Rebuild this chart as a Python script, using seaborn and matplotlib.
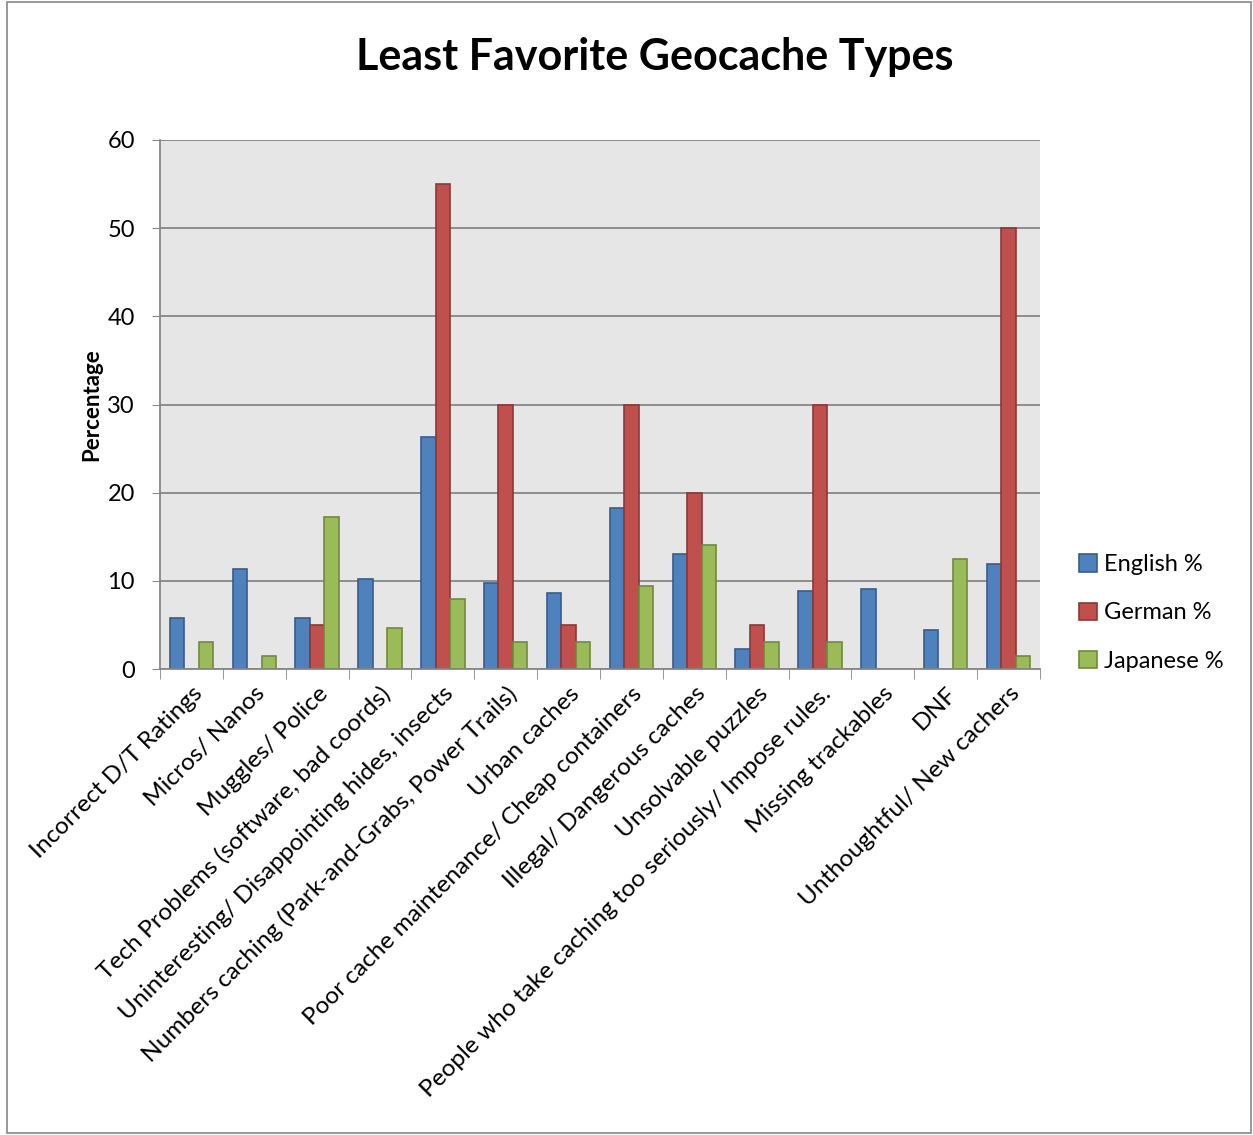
import matplotlib
matplotlib.use("Agg")
import matplotlib.pyplot as plt
import seaborn as sns
import pandas as pd
import numpy as np
from matplotlib.patches import Rectangle

categories = [
    "Incorrect D/T Ratings",
    "Micros/ Nanos",
    "Muggles/ Police",
    "Tech Problems (software, bad coords)",
    "Uninteresting/ Disappointing hides, insects",
    "Numbers caching (Park-and-Grabs, Power Trails)",
    "Urban caches",
    "Poor cache maintenance/ Cheap containers",
    "Illegal/ Dangerous caches",
    "Unsolvable puzzles",
    "People who take caching too seriously/ Impose rules.",
    "Missing trackables",
    "DNF",
    "Unthoughtful/ New cachers",
]
english = [5.8, 11.3, 5.8, 10.2, 26.3, 9.8, 8.6, 18.3, 13.0, 2.3, 8.8, 9.1, 4.4, 11.9]
german = [0, 0, 5, 0, 55, 30, 5, 30, 20, 5, 30, 0, 0, 50]
japanese = [3.1, 1.5, 17.2, 4.7, 7.9, 3.1, 3.1, 9.4, 14.1, 3.1, 3.1, 0, 12.5, 1.5]
series_names = ["English %", "German %", "Japanese %"]
y_ticks = [0, 10, 20, 30, 40, 50, 60]

face_colors = ["#4F81BD", "#C0504D", "#9BBB59"]
edge_colors = ["#385D8A", "#8C3836", "#71893F"]

rows = []
for name, vals in zip(series_names, [english, german, japanese]):
    for c, v in zip(categories, vals):
        rows.append({"Category": c, "Series": name, "Value": v})
df = pd.DataFrame(rows)

sns.set_style("white")
plt.rcParams["font.family"] = ["Lato", "DejaVu Sans"]
plt.rcParams["text.color"] = "black"
plt.rcParams["axes.labelcolor"] = "black"
plt.rcParams["xtick.labelcolor"] = "black"
plt.rcParams["ytick.labelcolor"] = "black"

fig = plt.figure(figsize=(12.53, 11.35), dpi=100)
ax = fig.add_axes([160 / 1253, 1 - 669 / 1135, 880 / 1253, 529 / 1135])

sns.barplot(data=df, x="Category", y="Value", hue="Series", order=categories,
            hue_order=series_names, palette=face_colors, width=0.69, saturation=1,
            errorbar=None, ax=ax, legend=True)

for cont, ec in zip(ax.containers, edge_colors):
    for bar in cont:
        bar.set_edgecolor(ec)
        bar.set_linewidth(1.2)
        if bar.get_height() == 0:
            bar.set_visible(False)

ax.set_facecolor("#E6E6E6")
ax.set_ylim(0, 60)
ax.set_xlim(-0.5, len(categories) - 0.5)
ax.set_yticks(y_ticks)
ax.yaxis.grid(True, color="#868686", linewidth=1.3)
ax.set_axisbelow(True)
for s in ["top", "right"]:
    ax.spines[s].set_visible(False)
for s in ["left", "bottom"]:
    ax.spines[s].set_color("#868686")
    ax.spines[s].set_linewidth(1.3)

ax.tick_params(axis="y", which="major", length=6, color="#868686", labelsize=17, pad=12, left=True, direction="out")
ax.set_xticks(np.arange(len(categories)))
ax.set_xticklabels(categories, rotation=45, ha="right", rotation_mode="anchor", fontsize=17.6)
ax.tick_params(axis="x", which="major", length=0, pad=10)
ax.set_xticks(np.arange(len(categories) + 1) - 0.5, minor=True)
ax.tick_params(axis="x", which="minor", length=7, color="#868686", bottom=True, direction="out")

ax.set_xlabel("")
ax.set_ylabel("Percentage", fontsize=16, fontweight="bold", labelpad=4)

fig.text(655 / 1253, 1 - 57 / 1135, "Least Favorite Geocache Types", fontsize=31,
         fontweight="bold", ha="center", va="center", color="black")

leg = ax.legend(loc="center left", bbox_to_anchor=(1.02, 0.106), frameon=False,
                fontsize=17, handlelength=0.75, handleheight=0.75, labelspacing=1.15,
                handletextpad=0.3)
for h, ec in zip(leg.legend_handles, edge_colors):
    h.set_edgecolor(ec)
    h.set_linewidth(1.2)

fig.patches.append(Rectangle((7 / 1253, 0.002), 1 - 9 / 1253, 0.996, transform=fig.transFigure,
                             fill=False, edgecolor="#868686", linewidth=1.2))

fig.savefig("out.png", dpi=100, facecolor="white")
